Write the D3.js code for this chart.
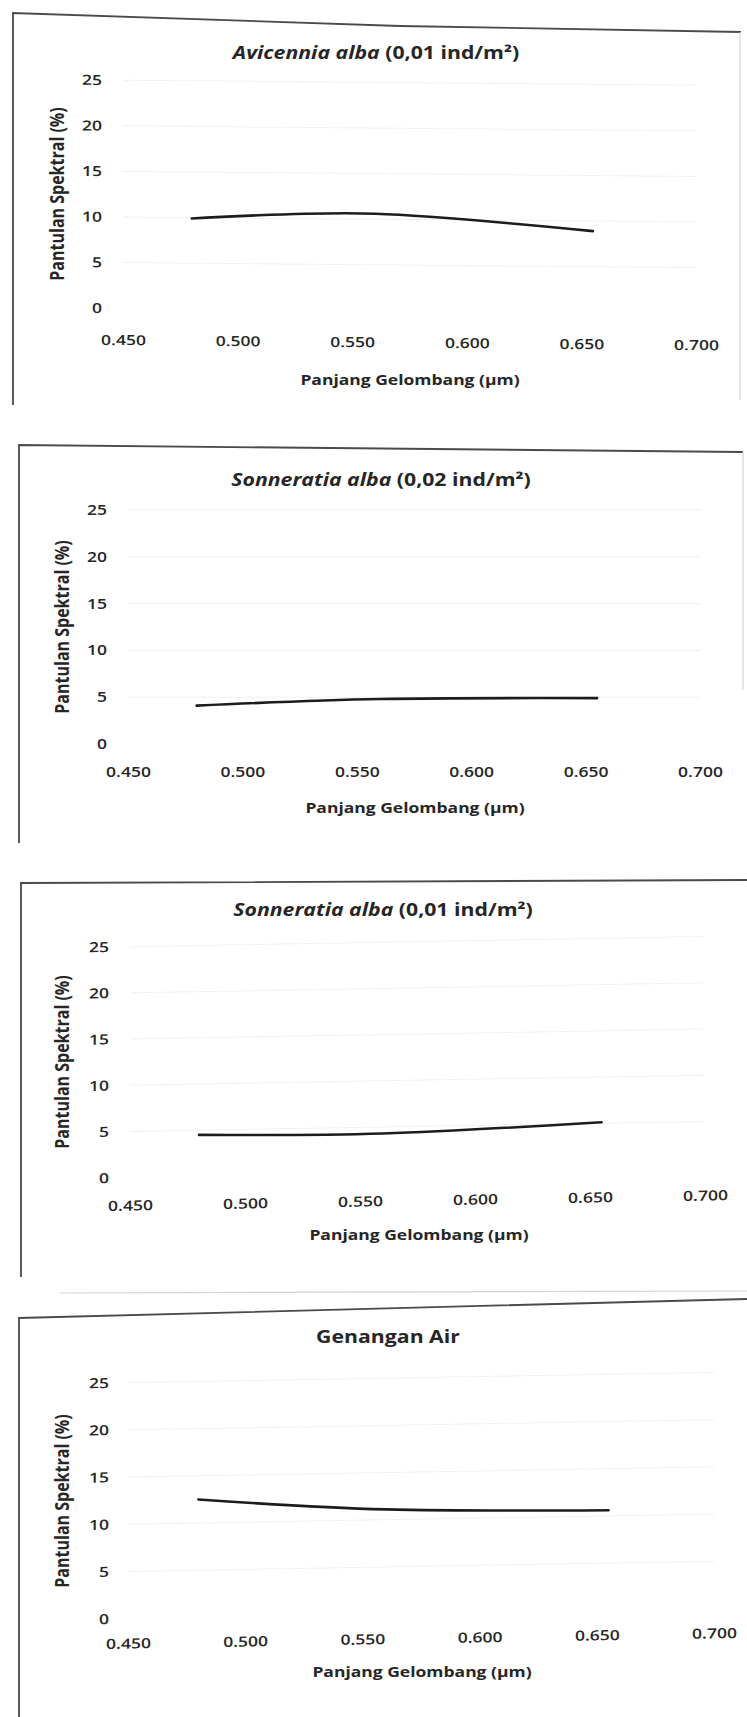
<!DOCTYPE html>
<html>
<head>
<meta charset="utf-8">
<script src="https://cdn.jsdelivr.net/npm/d3@7"></script>
<style>
  html, body { margin: 0; padding: 0; background: #fff; }
  svg { display: block; }
  text { font-family: "Open Sans", "DejaVu Sans", sans-serif; fill: #262626; }
</style>
</head>
<body>
<svg id="chart" width="747" height="1717"></svg>
<script>
// Wavelengths of the three bands (µm) and spectral reflectance (%) per object
const wavelengths = [0.48, 0.56, 0.655];
const avicenniaAlba001 = [9.9, 10.6, 8.9];
const sonneratiaAlba002 = [4.1, 4.8, 4.9];
const sonneratiaAlba001 = [4.5, 4.3, 5.1];
const genanganAir = [12.5, 11.1, 10.6];

// Panel titles: italic species name, then plain part
const titleItalic = ["Avicennia alba", "Sonneratia alba", "Sonneratia alba", ""];
const titlePlain = [" (0,01 ind/m²)", " (0,02 ind/m²)", " (0,01 ind/m²)", "Genangan Air"];
const seriesList = [avicenniaAlba001, sonneratiaAlba002, sonneratiaAlba001, genanganAir];

// Axis ticks and titles
const xTicks = [0.450, 0.500, 0.550, 0.600, 0.650, 0.700];
const yTicks = [0, 5, 10, 15, 20, 25];
const xAxisTitle = "Panjang Gelombang (µm)";
const yAxisTitle = "Pantulan Spektral (%)";

// Page geometry of each panel (the printed charts sit slightly askew on the page)
const layout = [
  { x0: 123, x1: 696, y0: 308, y25: 80,  tickY: 340, yLabelEnd: 102, skew: 0.5,
    title: [376, 53], xTitle: [410, 380], yTitle: [57, 194],
    frame: [[[13, 405], [13, 13], [400, 26], [741, 32]], [[740, 32], [740, 400]]] },
  { x0: 128, x1: 700, y0: 744, y25: 510, tickY: 772, yLabelEnd: 107, skew: 0,
    title: [381, 480], xTitle: [415, 808], yTitle: [62, 627],
    frame: [[[19, 843], [19, 445], [743, 452]], [[743, 452], [743, 690]]] },
  { x0: 130, x1: 705, y0: 1178, y25: 947, tickY: 1206, yLabelEnd: 109, skew: -1,
    title: [383, 910], xTitle: [419, 1235], yTitle: [62, 1062],
    frame: [[[21, 1277], [21, 883], [747, 880]], [[60, 1293], [747, 1291]]] },
  { x0: 128, x1: 714, y0: 1619, y25: 1383, tickY: 1644, yLabelEnd: 109, skew: -1,
    title: [388, 1337], xTitle: [422, 1672], yTitle: [62, 1501],
    frame: [[[19, 1717], [19, 1318], [747, 1299]]] }
];

// printed lettering is wide relative to its height
const stretchX = 1.25;

const svg = d3.select("#chart");
svg.append("rect").attr("width", 747).attr("height", 1717).attr("fill", "#fff");

const fmtX = d3.format(".3f");

layout.forEach((L, i) => {
  const values = seriesList[i];
  const points = wavelengths.map((w, j) => ({ w, v: values[j] }));

  const x = d3.scaleLinear().domain([0.45, 0.70]).range([L.x0, L.x1]);
  const y = d3.scaleLinear().domain([0, 25]).range([L.y0, L.y25]);

  // chart border
  L.frame.forEach((seg, k) => {
    svg.append("path")
      .attr("d", d3.line()(seg))
      .attr("fill", "none")
      .attr("stroke", k === 0 ? "#4a4a4a" : "#d4d4d4")
      .attr("stroke-width", k === 0 ? 1.8 : 1.2);
  });

  // plot content, sheared slightly like the printed page
  const pivot = L.yLabelEnd;
  const g = svg.append("g")
    .attr("transform", `translate(${pivot},0) skewY(${L.skew}) translate(${-pivot},0)`);

  // faint horizontal gridlines
  g.append("g")
    .selectAll("line")
    .data(yTicks.filter(t => t > 0))
    .join("line")
    .attr("x1", L.x0).attr("x2", L.x1)
    .attr("y1", d => y(d)).attr("y2", d => y(d))
    .attr("stroke", "#f0f0f0").attr("stroke-width", 1);

  // y axis (labels only)
  const yAxis = g.append("g")
    .attr("transform", `translate(${L.yLabelEnd},0)`)
    .call(d3.axisLeft(y).tickValues(yTicks).tickSize(0).tickPadding(0).tickFormat(d3.format("d")));
  yAxis.select(".domain").remove();
  yAxis.selectAll("text")
    .attr("x", 0)
    .attr("transform", `scale(${stretchX},1)`)
    .attr("font-size", 14).attr("font-weight", 600).attr("fill", "#262626")
    .attr("font-family", "Open Sans");

  // x axis (labels only)
  const xAxis = g.append("g")
    .attr("transform", `translate(0,${L.tickY})`)
    .call(d3.axisBottom(x).tickValues(xTicks).tickSize(0).tickPadding(0).tickFormat(fmtX));
  xAxis.select(".domain").remove();
  xAxis.selectAll("text")
    .attr("y", 0).attr("dy", "0.35em")
    .attr("transform", `scale(${stretchX},1)`)
    .attr("font-size", 14).attr("font-weight", 600).attr("fill", "#262626")
    .attr("font-family", "Open Sans");

  // reflectance curve (smoothed line)
  g.append("path")
    .datum(points)
    .attr("d", d3.line().x(d => x(d.w)).y(d => y(d.v)).curve(d3.curveCatmullRom.alpha(0)))
    .attr("fill", "none")
    .attr("stroke", "#1c1c1c")
    .attr("stroke-width", 2.6)
    .attr("stroke-linecap", "round");

  // chart title
  const t = svg.append("text")
    .attr("transform", `translate(${L.title[0]},${L.title[1]}) scale(${stretchX},1)`)
    .attr("text-anchor", "middle").attr("dy", "0.35em")
    .attr("font-size", 17).attr("font-weight", 700);
  if (titleItalic[i]) t.append("tspan").attr("font-style", "italic").text(titleItalic[i]);
  t.append("tspan").text(titlePlain[i]);

  // axis titles
  svg.append("text")
    .attr("transform", `translate(${L.xTitle[0]},${L.xTitle[1]}) scale(${stretchX},1)`)
    .attr("text-anchor", "middle").attr("dy", "0.35em")
    .attr("font-size", 14).attr("font-weight", 700)
    .text(xAxisTitle);

  svg.append("text")
    .attr("transform", `translate(${L.yTitle[0]},${L.yTitle[1]}) scale(${stretchX},1) rotate(-90)`)
    .attr("text-anchor", "middle").attr("dy", "0.35em")
    .attr("font-size", 16).attr("font-weight", 700)
    .text(yAxisTitle);
});
</script>
</body>
</html>
